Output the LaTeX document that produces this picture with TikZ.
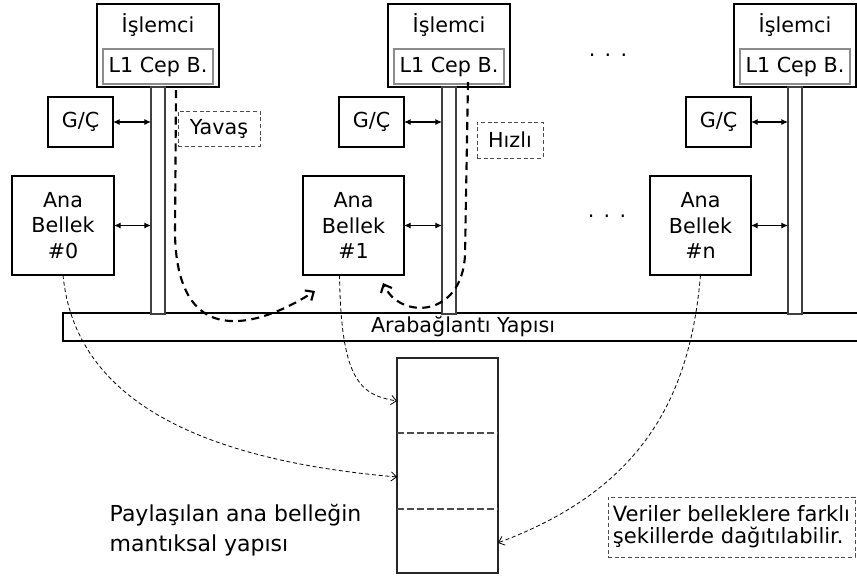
\documentclass[tikz,border=0pt]{standalone}
\usepackage{fontspec}
\setmainfont{DejaVu Sans}
\usetikzlibrary{
  arrows.meta,
  positioning
  }

\begin{document}
\begin{tikzpicture}[x=0.75pt,y=-0.75pt,font=\fontsize{15.5}{19}\selectfont]
    \useasboundingbox (0,0) rectangle (857,576);
    \tikzset{kutu/.style 2 args = {draw, line width=0.8pt, inner sep=0pt, outer sep=0pt, minimum width=#1*0.75pt, minimum height=#2*0.75pt, align=center}}
    \tikzset{hatkutu/.style = {kutu={14}{227}, draw=black!75, line width=1.1pt, fill=white}}
    \tikzset{notkutu/.style 2 args = {kutu={#1}{#2}, draw=black!70, line width=0.7pt, dash pattern=on 3pt off 2pt}}
    \tikzset{ciftok/.style = {line width=0.8pt, {Latex[length=5pt,width=4.5pt]}-{Latex[length=5pt,width=4.5pt]}}}
    \tikzset{kalinok/.style = {line width=1.6pt, dash pattern=on 6pt off 4pt, -{Straight Barb[length=5pt,width=9pt]}}}
    \tikzset{inceok/.style = {line width=0.6pt, dash pattern=on 3pt off 2pt, -{Straight Barb[length=4pt,width=7pt]}}}

    % arabaglanti
    \draw[line width=1pt] (857,313) -- (63,313) -- (63,341) -- (857,341);
    \node (arabaglanti) at (463,327) {Arabağlantı Yapısı};

    % islemci 0
    \node [kutu={122}{83}] (islemci0) at (158,45.5) {};
    \node at ([yshift=-15.5pt]islemci0.north) {İşlemci};
    \node [kutu={110}{35}, draw=black!45, above=2.25pt of islemci0.south] (onbellek0) {L1 Cep B.};
    \node [hatkutu, below=0pt of islemci0] (hat0) {};
    \node [kutu={65}{50}] (gc0) at (80.5,122) {G/Ç};
    \node [kutu={102}{99}] (bellek0) at (63,225.5) {Ana\\Bellek\\\#0};
    \draw[ciftok] (gc0) -- (gc0 -| hat0.west);
    \draw[ciftok] (bellek0) -- (bellek0 -| hat0.west);

    % islemci 1
    \node [kutu={122}{83}] (islemci1) at (449,45.5) {};
    \node at ([yshift=-15.5pt]islemci1.north) {İşlemci};
    \node [kutu={110}{35}, draw=black!45, above=2.25pt of islemci1.south] (onbellek1) {L1 Cep B.};
    \node [hatkutu, below=0pt of islemci1] (hat1) {};
    \node [kutu={65}{50}] (gc1) at (371.5,122) {G/Ç};
    \node [kutu={101}{99}] (bellek1) at (353.5,225.5) {Ana\\Bellek\\\#1};
    \draw[ciftok] (gc1) -- (gc1 -| hat1.west);
    \draw[ciftok] (bellek1) -- (bellek1 -| hat1.west);

    % islemci n
    \node [kutu={122}{83}] (islemcin) at (795,45.5) {};
    \node at ([yshift=-15.5pt]islemcin.north) {İşlemci};
    \node [kutu={110}{35}, draw=black!45, above=2.25pt of islemcin.south] (onbellekn) {L1 Cep B.};
    \node [hatkutu, below=0pt of islemcin] (hatn) {};
    \node [kutu={65}{50}] (gcn) at (718.5,122) {G/Ç};
    \node [kutu={101}{99}] (bellekn) at (700.5,225.5) {Ana\\Bellek\\\#n};
    \draw[ciftok] (gcn) -- (gcn -| hatn.west);
    \draw[ciftok] (bellekn) -- (bellekn -| hatn.west);

    % noktalar
    \node (nokta1) at (608,55) {.\hspace{7pt}.\hspace{7pt}.};
    \node (nokta2) at (607,216) {.\hspace{7pt}.\hspace{7pt}.};

    % yavas / hizli
    \node [notkutu={82}{35}] (yavas) at (219,128.5) {Yavaş};
    \node [notkutu={66}{36}] (hizli) at (510,140) {Hızlı};
    \coordinate (yavasbas) at (176,90);
    \coordinate (yavasuc) at (315,291);
    \coordinate (hizlibas) at (468,82);
    \coordinate (hizliuc) at (383,283);
    \draw[kalinok] (yavasbas) -- (175,235) .. controls (178,360) and (270,320) .. (yavasuc);
    \draw[kalinok] (hizlibas) -- (465,255) .. controls (462,318) and (400,320) .. (hizliuc);

    % mantiksal yapi
    \node [kutu={101}{215}, line width=1pt, draw=black!85] (bellekyapi) at (447.5,465.5) {};
    \draw[black!70, line width=1pt, dash pattern=on 5pt off 2.5pt] (bellekyapi.west |- 0,433) -- (bellekyapi.east |- 0,433);
    \draw[black!70, line width=1pt, dash pattern=on 5pt off 2.5pt] (bellekyapi.west |- 0,509) -- (bellekyapi.east |- 0,509);

    \draw[inceok] ([xshift=-10.5pt]bellek1.south) .. controls (341,380) and (360,395) .. ([yshift=48.4pt]bellekyapi.west);
    \draw[inceok] (bellek0.south) .. controls (75,400) and (200,460) .. ([yshift=-8.6pt]bellekyapi.west);
    \draw[inceok] (bellekn.south) .. controls (690,400) and (640,490) .. ([yshift=-58pt]bellekyapi.east);

    \node [anchor=west, align=left, font=\fontsize{16.5}{22.5}\selectfont] (paylasilan) at (105,530) {Paylaşılan ana belleğin\\mantıksal yapısı};
    \node [notkutu={247}{60}, align=left, font=\fontsize{15.8}{16.5}\selectfont] (veriler) at (731.5,527) {Veriler belleklere farklı\\şekillerde dağıtılabilir.};

\end{tikzpicture}
\end{document}
